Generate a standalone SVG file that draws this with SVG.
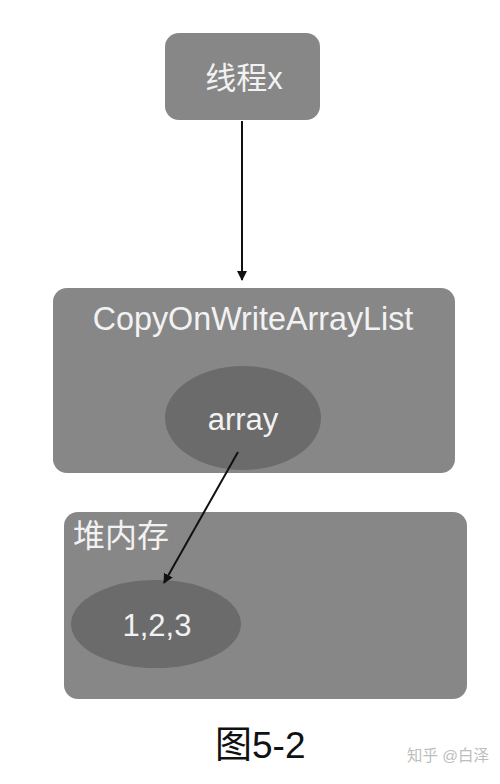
<svg xmlns="http://www.w3.org/2000/svg" width="500" height="784" viewBox="0 0 500 784">
<defs>
<style>
.box{fill:#878787;}
.ell{fill:#6b6b6b;}
.lbl{font-family:"Liberation Sans","Noto Sans CJK SC",sans-serif;fill:#f2f2f2;font-size:31px;}
.edge{stroke:#111;stroke-width:2;fill:none;}
</style>
<marker id="ah" markerWidth="10" markerHeight="10" refX="9" refY="5" orient="auto" markerUnits="userSpaceOnUse">
<path d="M0,0 L10,5 L0,10 Z" fill="#111"/>
</marker>
</defs>
<rect width="500" height="784" fill="#fff"/>
<g id="thread">
<rect class="box" x="165" y="33" width="155" height="87" rx="14"/>
<text class="lbl" x="244" y="89" text-anchor="middle">线程x</text>
</g>
<g id="cowal">
<rect class="box" x="53" y="288" width="402" height="185" rx="14"/>
<text class="lbl" x="253" y="330" text-anchor="middle" style="font-size:32.3px">CopyOnWriteArrayList</text>
</g>
<g id="array">
<ellipse class="ell" cx="243" cy="418" rx="78" ry="52"/>
<text class="lbl" x="243" y="430" text-anchor="middle">array</text>
</g>
<g id="heap">
<rect class="box" x="64" y="512" width="403" height="187" rx="14"/>
<text class="lbl" x="73" y="547" style="font-size:32px">堆内存</text>
</g>
<g id="values">
<ellipse class="ell" cx="156" cy="624" rx="85" ry="44"/>
<text class="lbl" x="157" y="636" text-anchor="middle">1,2,3</text>
</g>
<g id="connectors">
<line class="edge" x1="242" y1="121" x2="242" y2="280" marker-end="url(#ah)"/>
<line class="edge" x1="238" y1="452" x2="164" y2="583" marker-end="url(#ah)"/>
</g>
<text x="215" y="758" font-family="Liberation Sans,'Noto Sans CJK SC',sans-serif" font-size="37" fill="#111">图5-2</text>
<text x="407" y="761" font-family="Liberation Sans,'Noto Sans CJK SC',sans-serif" font-size="15.5" fill="#bdbdbd">知乎 @白泽</text>
</svg>
